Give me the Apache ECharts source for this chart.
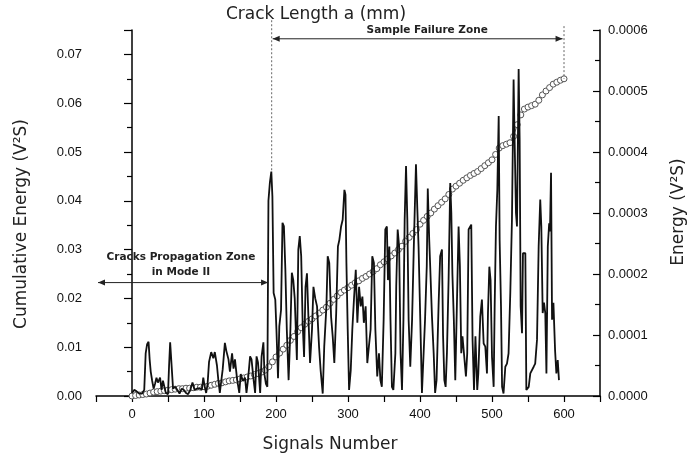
<!DOCTYPE html>
<html>
<head>
<meta charset="utf-8">
<script src="https://cdn.jsdelivr.net/npm/echarts@6/dist/echarts.min.js"></script>
<style>
html,body{margin:0;padding:0;background:#fff;}
#chart{width:696px;height:463px;}
</style>
</head>
<body>
<div id="chart"></div>
<script>
// ---- Data ----
// Cumulative energy (V^2 S) vs signal number [signal, value]
const cumulative = [
[0,0.0000],[5,0.0001],[10,0.0002],[15,0.0003],[20,0.0004],[25,0.0006],[30,0.0008],[35,0.0009],[40,0.0010],[45,0.0011],
[50,0.0012],[55,0.0013],[60,0.0014],[65,0.0015],[70,0.0015],[75,0.0016],[80,0.0016],[85,0.0017],[90,0.0018],[95,0.0018],
[100,0.0019],[105,0.0020],[110,0.0022],[115,0.0024],[120,0.0026],[125,0.0027],[130,0.0029],[135,0.0031],[140,0.0032],[145,0.0033],
[150,0.0035],[155,0.0037],[160,0.0039],[165,0.0041],[170,0.0044],[175,0.0046],[180,0.0049],[185,0.0053],[190,0.0060],[195,0.0070],
[200,0.0080],[205,0.0088],[210,0.0096],[215,0.0104],[220,0.0114],[225,0.0122],[230,0.0132],[235,0.0140],[240,0.0147],[245,0.0153],
[250,0.0158],[255,0.0164],[260,0.0170],[265,0.0176],[270,0.0182],[275,0.0190],[280,0.0198],[285,0.0205],[290,0.0212],[295,0.0217],
[300,0.0222],[305,0.0227],[310,0.0232],[315,0.0236],[320,0.0241],[325,0.0245],[330,0.0250],[335,0.0255],[340,0.0261],[345,0.0269],
[350,0.0275],[355,0.0281],[360,0.0287],[365,0.0293],[370,0.0300],[375,0.0307],[380,0.0317],[385,0.0325],[390,0.0333],[395,0.0341],
[400,0.0352],[405,0.0360],[410,0.0368],[415,0.0375],[420,0.0383],[425,0.0390],[430,0.0397],[435,0.0404],[440,0.0413],[445,0.0424],
[450,0.0430],[455,0.0436],[460,0.0442],[465,0.0447],[470,0.0452],[475,0.0456],[480,0.0460],[485,0.0466],[490,0.0472],[495,0.0478],
[500,0.0484],[505,0.0495],[510,0.0508],[515,0.0513],[520,0.0516],[525,0.0519],[530,0.0532],[535,0.0556],[540,0.0576],[545,0.0588],
[550,0.0592],[555,0.0595],[560,0.0598],[565,0.0606],[570,0.0617],[575,0.0625],[580,0.0632],[585,0.0639],[590,0.0643],[595,0.0647],
[600,0.0650]
];
// Energy per signal, in units of 1e-4 V^2 S: [signal, value]
const energyE4 = [
[0,0.05],[3,0.1],[6,0.08],[10,0.04],[14,0.04],[17,0.1],[19,0.7],[21,0.85],[23,0.89],[24.5,0.6],[26,0.4],[28,0.25],[30,0.12],
[32,0.2],[34,0.3],[36,0.22],[39,0.3],[41,0.1],[43,0.25],[45,0.15],[47,0.05],[50,0.03],[51.5,0.5],[53,0.88],[55.5,0.88],[57,0.12],
[60,0.15],[63,0.1],[66,0.04],[69,0.12],[72,0.1],[75,0.05],[78,0.03],[81,0.1],[84,0.22],[87,0.1],[90,0.12],[94,0.13],[97,0.1],
[99,0.3],[101,0.15],[103,0.05],[105,0.2],[107,0.56],[110,0.72],[113,0.62],[115,0.72],[118,0.5],[120,0.25],[122,0.05],[124,0.25],
[126,0.44],[129,0.87],[131,0.74],[134,0.6],[136,0.4],[139,0.7],[141,0.45],[143,0.6],[146,0.27],[149,0.05],[151,0.36],[154,0.25],
[157,0.3],[159,0.05],[161,0.25],[164,0.65],[166,0.6],[169,0.25],[171,0.05],[173,0.65],[175,0.55],[178,0.05],[180,0.65],[182.5,0.88],
[184,0.35],[186,0.2],[188,0.15],[189.5,3.2],[191.5,3.5],[193.5,3.68],[195,3.27],[196.7,1.69],[199,1.58],[200.6,1.09],[202.8,0.29],
[204.6,1.14],[207,1.41],[209,2.84],[211,2.78],[213,2.07],[215,1.09],[217.5,0.26],[220,1.09],[222,2.02],[224,1.9],[226,1.6],[229,0.59],
[231,2.4],[233,2.62],[235,2.29],[237,1.2],[239,0.64],[241,1.79],[243,2.01],[245,1.3],[247.3,0.54],[250,1.09],[252,1.79],[254.5,1.6],
[257,1.47],[259.8,0.81],[262,0.42],[264.9,0.04],[267,0.81],[270,1.47],[271.8,2.29],[274,2.18],[276.5,1.3],[278.8,0.97],[281,0.54],
[283.6,1.36],[286,2.45],[288,2.56],[290.4,2.78],[292.6,2.89],[295,3.38],[296.5,3.3],[297.8,2.18],[299.6,1.09],[301.5,0.1],[303.8,0.42],
[306,1.09],[308.5,1.63],[310.8,2.07],[313,1.2],[315.4,1.79],[317.7,1.47],[320,1.63],[322,1.2],[324.5,1.47],[326.8,0.54],[329,0.81],
[331.4,1.09],[333.7,2.29],[336,2.18],[338,1.09],[340.6,0.32],[343,0.7],[345,0.26],[347,0.15],[349.5,1.25],[351.8,2.73],[354,2.78],
[355.5,1.9],[357.4,2.45],[359,1.25],[361,0.15],[363,0.1],[365.8,0.7],[367,1.8],[369,2.73],[371,2.45],[373,0.7],[375,0.1],[377,1.25],
[378.7,2.89],[380.6,3.77],[382.4,2.89],[384.2,1.25],[386.5,0.48],[389,1.25],[391.2,2.35],[392.6,3.0],[394.4,3.8],[396.3,3.06],[398,2.45],
[400.4,1.25],[402.7,0.05],[405,0.05],[407,1.25],[409.4,2.13],[410.8,3.4],[412.8,2.56],[414,2.18],[416.6,1.31],[419,0.7],[421,0.05],
[423,0.26],[425.9,1.53],[428,2.29],[430.5,2.4],[432,1.0],[433.8,0.26],[435.6,0.15],[437.4,0.7],[439.7,1.9],[442,3.49],[443.5,3.0],
[445,2.0],[447,1.25],[449,0.26],[451.3,1.53],[453.6,2.78],[455.4,2.13],[457.3,0.7],[459,0.98],[461.5,1.0],[463.8,0.32],[465.6,0.7],
[467.5,2.73],[471.2,2.81],[473,0.92],[475,0.1],[477,0.98],[478,0.95],[479.5,0.1],[481,0.37],[483.7,1.3],[486,1.58],[488.4,0.86],
[490.7,0.81],[493,0.37],[494.4,1.36],[496.3,2.12],[498,1.9],[500,0.64],[502.3,0.15],[503.7,1.47],[505.5,2.78],[507.4,3.38],[509.3,4.59],
[510.6,2.56],[512.5,1.47],[514,0.15],[516,0.04],[518.5,0.48],[520.8,0.53],[523,0.7],[525.4,1.69],[527.7,2.89],[530,5.19],[531.4,4.2],
[533.3,3.0],[534.7,2.78],[537,5.36],[538.4,4.2],[539.8,1.47],[541.7,1.03],[543,2.34],[546.3,2.34],[547.7,0.1],[551,0.15],[553.2,0.37],
[557.9,0.48],[560,0.53],[562.5,0.92],[564.8,2.45],[567,3.22],[568.5,2.78],[570.4,1.36],[572.2,1.53],[574,1.36],[575.6,0.37],[577.5,2.45],
[579.4,2.83],[580.5,2.7],[582,3.66],[583.4,1.25],[585.3,1.53],[587.6,0.75],[589.4,0.37],[591.3,0.59],[593,0.26]
];
// Axis settings
const xTicks = [0,100,200,300,400,500,600];
const leftTicks = [0.00,0.01,0.02,0.03,0.04,0.05,0.06,0.07];
const rightTicks = [0.0000,0.0001,0.0002,0.0003,0.0004,0.0005,0.0006];
// Annotation anchors (data units)
const failureStart = 194, failureEnd = 600;
const peakAtFailure = 3.68e-4;          // energy peak at the dashed boundary (right axis)
const cumulativeEnd = 0.0650;           // cumulative value at the end (left axis)

const energy = energyE4.map(p => [p[0], p[1] * 1e-4]);

const chart = echarts.init(document.getElementById('chart'), null, {renderer: 'canvas'});
const numFont = 'Liberation Sans, Arial, sans-serif';
const nameFont = 'DejaVu Sans, sans-serif';

chart.setOption({
  animation: false,
  backgroundColor: '#fff',
  grid: {left: 96, right: 96, top: 30, bottom: 67},
  xAxis: {
    type: 'value', min: -50, max: 650, interval: 50,
    axisLine: {show: true, onZero: false, lineStyle: {color: '#000', width: 1.5}},
    axisTick: {show: true, inside: false, length: 6, lineStyle: {color: '#000', width: 1.2}},
    axisLabel: {margin: 12, color: '#111', fontSize: 13, fontFamily: numFont,
      formatter: v => (xTicks.indexOf(v) >= 0 ? String(v) : '')},
    splitLine: {show: false}
  },
  yAxis: [
    {
      type: 'value', min: 0, max: 0.075, interval: 0.01, position: 'left',
      axisLine: {show: true, lineStyle: {color: '#000', width: 1.5}},
      axisTick: {show: true, inside: false, length: 8, lineStyle: {color: '#000', width: 1.2}},
      minorTick: {show: true, splitNumber: 2, length: 5, lineStyle: {color: '#000', width: 1.2}},
      axisLabel: {margin: 14, color: '#111', fontSize: 13, fontFamily: numFont,
        formatter: v => (leftTicks.some(t => Math.abs(t - v) < 1e-9) ? v.toFixed(2) : '')},
      splitLine: {show: false}
    },
    {
      type: 'value', min: 0, max: 0.0006, interval: 0.0001, position: 'right',
      axisLine: {show: true, lineStyle: {color: '#000', width: 1.5}},
      axisTick: {show: true, inside: true, length: 7, lineStyle: {color: '#000', width: 1.2}},
      minorTick: {show: true, splitNumber: 2, length: 5, lineStyle: {color: '#000', width: 1.2}},
      axisLabel: {margin: 8, color: '#111', fontSize: 13, fontFamily: numFont,
        formatter: v => (rightTicks.some(t => Math.abs(t - v) < 1e-12) ? v.toFixed(4) : '')},
      splitLine: {show: false}
    }
  ],
  series: [
    {
      name: 'Cumulative Energy', type: 'line', yAxisIndex: 0, data: cumulative,
      symbol: 'circle', symbolSize: 6, showSymbol: true,
      lineStyle: {color: '#555', width: 1},
      itemStyle: {color: '#fff', borderColor: '#555', borderWidth: 1},
      z: 2
    },
    {
      name: 'Energy', type: 'line', yAxisIndex: 1, data: energy,
      showSymbol: false, symbol: 'none',
      lineStyle: {color: '#111', width: 1.8},
      z: 3
    }
  ]
});

// ---- Annotations positioned through the chart's own scales ----
function P(x, y, yi) { return chart.convertToPixel({xAxisIndex: 0, yAxisIndex: yi || 0}, [x, y]); }
function arrowHead(x, y, dir) {
  const L = 7, H = 3;
  return {type: 'polygon', shape: {points: [[x, y], [x - dir * L, y - H], [x - dir * L, y + H]]},
          style: {fill: '#222'}, z: 10};
}
const g = [];
// dashed boundaries
const dTop = P(failureStart, 0.077)[1];
const d1a = P(failureStart, 0)[0];
const d1b = P(failureStart, peakAtFailure, 1)[1];
g.push({type: 'line', shape: {x1: d1a, y1: dTop, x2: d1a, y2: d1b}, style: {stroke: '#666', lineWidth: 1, lineDash: [2, 2]}, z: 10});
const d2a = P(failureEnd, 0)[0];
const d2b = P(failureEnd, cumulativeEnd)[1];
const dTop2 = P(failureEnd, 0.0758)[1];
g.push({type: 'line', shape: {x1: d2a, y1: dTop2, x2: d2a, y2: d2b}, style: {stroke: '#666', lineWidth: 1, lineDash: [2, 2]}, z: 10});
// Sample failure zone arrow
const ay = P(0, 0.0732)[1];
const axL = P(failureStart, 0)[0] + 1, axR = P(598, 0)[0];
g.push({type: 'line', shape: {x1: axL, y1: ay, x2: axR, y2: ay}, style: {stroke: '#222', lineWidth: 1}, z: 10});
g.push(arrowHead(axL, ay, -1), arrowHead(axR, ay, 1));
const tSF = P(410, 0.0749);
g.push({type: 'text', x: tSF[0], y: tSF[1], style: {text: 'Sample Failure Zone', fontFamily: nameFont, fontWeight: 'bold', fontSize: 10.5, fill: '#222', align: 'center', verticalAlign: 'middle'}, z: 10});
// Cracks propagation zone arrow
const by = P(0, 0.02324)[1];
const bxL = P(-50, 0)[0] + 2, bxR = P(189, 0)[0];
g.push({type: 'line', shape: {x1: bxL, y1: by, x2: bxR, y2: by}, style: {stroke: '#222', lineWidth: 1}, z: 10});
g.push(arrowHead(bxL, by, -1), arrowHead(bxR, by, 1));
const tCP = P(68, 0.0285);
g.push({type: 'text', x: tCP[0], y: tCP[1], style: {text: 'Cracks Propagation Zone', fontFamily: nameFont, fontWeight: 'bold', fontSize: 10.5, fill: '#222', align: 'center', verticalAlign: 'middle'}, z: 10});
const tCP2 = P(68, 0.0254);
g.push({type: 'text', x: tCP2[0], y: tCP2[1], style: {text: 'in Mode II', fontFamily: nameFont, fontWeight: 'bold', fontSize: 10.5, fill: '#222', align: 'center', verticalAlign: 'middle'}, z: 10});
// Axis titles
g.push({type: 'text', x: 316, y: 15, style: {text: 'Crack Length a (mm)', fontFamily: nameFont, fontSize: 17, fill: '#222', align: 'center', verticalAlign: 'middle'}});
g.push({type: 'text', x: 330, y: 445, style: {text: 'Signals Number', fontFamily: nameFont, fontSize: 17, fill: '#222', align: 'center', verticalAlign: 'middle'}});
g.push({type: 'text', x: 22, y: 224, rotation: Math.PI / 2, style: {text: 'Cumulative Energy (V\u00B2S)', fontFamily: nameFont, fontSize: 17, fill: '#222', align: 'center', verticalAlign: 'middle'}});
g.push({type: 'text', x: 679, y: 212, rotation: Math.PI / 2, style: {text: 'Energy (V\u00B2S)', fontFamily: nameFont, fontSize: 17, fill: '#222', align: 'center', verticalAlign: 'middle'}});
chart.setOption({graphic: g});
</script>
</body>
</html>
